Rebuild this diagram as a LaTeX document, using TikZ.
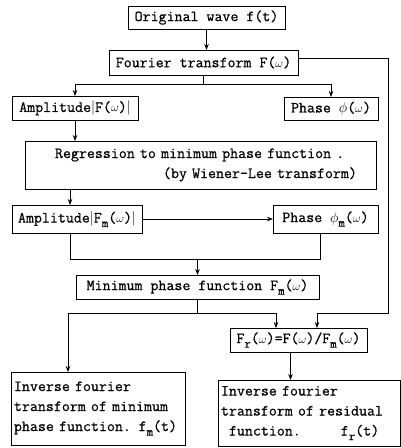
\documentclass[tikz,border=0pt]{standalone}
\usepackage{fontspec}
\setmonofont[FakeBold=0.6]{Latin Modern Mono}
\usetikzlibrary{arrows.meta,calc}
\newcommand\subtt[1]{\raisebox{-4.5pt}{\fontsize{12.5}{12.5}\selectfont #1}}
\newcommand\om{{\fontsize{13}{13}\selectfont$\omega$}}
\begin{document}
\begin{tikzpicture}[x=1pt,y=-1pt,
  font=\fontsize{15.5}{20}\selectfont\ttfamily,
  box/.style={draw,line width=0.9pt,inner sep=3pt,outer sep=0pt},
  ln/.style={line width=0.85pt},
  arr/.style={ln,-{Stealth[length=6pt,width=4.5pt]}}]
\useasboundingbox (0,0) rectangle (401,448);
\fill[white] (0,0) rectangle (401,448);

\node[box,minimum width=126pt,minimum height=24pt,inner ysep=1pt] (C) at (75,108) {Amplitude$\Big|$F(\om)$\Big|$};
\node[box,minimum width=157pt,minimum height=23pt] (A) at (206.5,17.5) {Original wave f(t)};
\node[box,minimum width=189pt,minimum height=25pt] (B) at (203.5,62.5) {Fourier transform F(\om)};
\node[box,minimum width=94pt,minimum height=23pt] (D) at (331,108.5) {Phase $\phi$(\om)};
\node[box,text width=345pt,align=left,minimum height=48pt] (E) at (200.5,165)
  {\hspace*{27pt}Regression to minimum phase function .\\\hspace*{135pt}(by Wiener-Lee transform)};
\node[box,minimum width=130pt,minimum height=28pt,inner ysep=1pt] (F) at (77,219) {Amplitude$\Big|$F\subtt{m}(\om)$\Big|$};
\node[box,minimum width=105pt,minimum height=28pt] (G) at (325.5,219) {Phase $\phi$\subtt{m}(\om)};
\node[box,minimum width=243pt,minimum height=24pt] (H) at (197.5,287) {Minimum phase function F\subtt{m}(\om)};
\node[box,minimum width=137pt,minimum height=24pt] (J) at (298.5,340) {F\subtt{r}(\om)=F(\om)/F\subtt{m}(\om)};
\node[box,text width=168pt,align=left,minimum height=73pt] (I) at (98,408.5)
  {Inverse fourier\\transform of minimum\\phase function. f\subtt{m}(t)};
\node[box,text width=176pt,align=left,minimum height=66pt] (K) at (309,413)
  {Inverse fourier\\transform of residual\\\hspace*{8pt}function.\hspace*{40pt}f\subtt{r}(t)};

\coordinate (j1) at (203.5,84);
\coordinate (j2) at (197.5,259);
\coordinate (j3) at (197.5,313);
\coordinate (iL) at (68,313);
\coordinate (jL) at (276,313);
\coordinate (rt) at (388,58);
\coordinate (rb) at (388,313);
\coordinate (jR) at (317,313);

\draw[arr] (A.south) -- (A.south |- B.north);
\draw[ln] (B.south) -- (j1);
\draw[arr] (j1) -| (C.north);
\draw[arr] (j1) -| (D.north);
\draw[arr] (C.south) -- (C.south |- E.north);
\draw[arr] ([xshift=-7pt]F.north |- E.south) -- ([xshift=-7pt]F.north);
\draw[arr] (F.east) -- (G.west);
\draw[ln] ([xshift=-7pt]F.south) |- ([xshift=-5.5pt]G.south |- j2) -- ([xshift=-5.5pt]G.south);
\draw[arr] (j2) -- (H.north);
\draw[ln] (H.south) -- (j3);
\draw[arr] (j3) -- (iL) -- (iL |- I.north);
\draw[arr] (j3) -- (jL) -- (jL |- J.north);
\draw[arr] (B.east |- rt) -- (rt) -- (rb) -- (jR) -- (jR |- J.north);
\draw[arr] ([xshift=-8pt]J.south) -- ([xshift=-8pt]J.south |- K.north);
\end{tikzpicture}
\end{document}
